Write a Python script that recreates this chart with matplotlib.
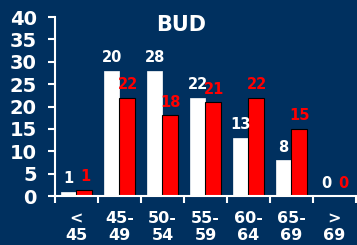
import matplotlib.pyplot as plt
import numpy as np

# age groups
categories = ['<\n45', '45-\n49', '50-\n54', '55-\n59', '60-\n64', '65-\n69', '>\n69']
# bar heights as drawn
white_vals = [1, 28, 28, 22, 13, 8, 0]
red_vals = [1.4, 22, 18, 21, 22, 15, 0]
# numbers printed above the bars
white_labels = ['1', '20', '28', '22', '13', '8', '0']
red_labels = ['1', '22', '18', '21', '22', '15', '0']
title = 'BUD'

bg = '#00305F'
fig = plt.figure(figsize=(3.57, 2.45), dpi=100, facecolor=bg)
ax = fig.add_axes([0.154, 0.2, 0.843, 0.7306], facecolor=bg)

x = np.arange(len(categories))
w = 0.36
ax.bar(x - w / 2, white_vals, w, color='white', edgecolor='white', linewidth=0.5)
ax.bar(x + w / 2, red_vals, w, color='#FF0000', edgecolor='black', linewidth=0.8)

# value labels, centred about 13 px above each bar
off = 2.9
for xi, v, lab in zip(x, white_vals, white_labels):
    ax.text(xi - w / 2, v + off, lab, ha='center', va='center', color='white',
            fontsize=10.5, fontweight='bold')
for xi, v, lab in zip(x, red_vals, red_labels):
    ax.text(xi + w / 2 + 0.02, v + off, lab, ha='center', va='center', color='#FF0000',
            fontsize=10.5, fontweight='bold')

ax.set_xlim(-0.5, len(categories) - 0.5)
ax.set_ylim(0, 40)
ax.set_yticks(range(0, 41, 5))
ax.set_xticks(x)
ax.set_xticklabels(categories, linespacing=1.15)
ax.set_xticks(np.arange(-0.5, len(categories), 1), minor=True)

for s in ['top', 'right']:
    ax.spines[s].set_visible(False)
for s in ['left', 'bottom']:
    ax.spines[s].set_color('white')
    ax.spines[s].set_linewidth(1.5)

ax.tick_params(axis='y', colors='white', labelsize=14, length=5, width=1.5, pad=8)
ax.tick_params(axis='x', which='major', colors='white', labelsize=11.5, length=0, pad=11)
ax.tick_params(axis='x', which='minor', colors='white', length=5, width=1.5)
for t in ax.get_xticklabels() + ax.get_yticklabels():
    t.set_fontweight('bold')

ax.text(0.42, 0.955, title, transform=ax.transAxes, ha='center', va='center',
        color='white', fontsize=15, fontweight='bold')

plt.savefig('out.png', dpi=100, facecolor=bg)
